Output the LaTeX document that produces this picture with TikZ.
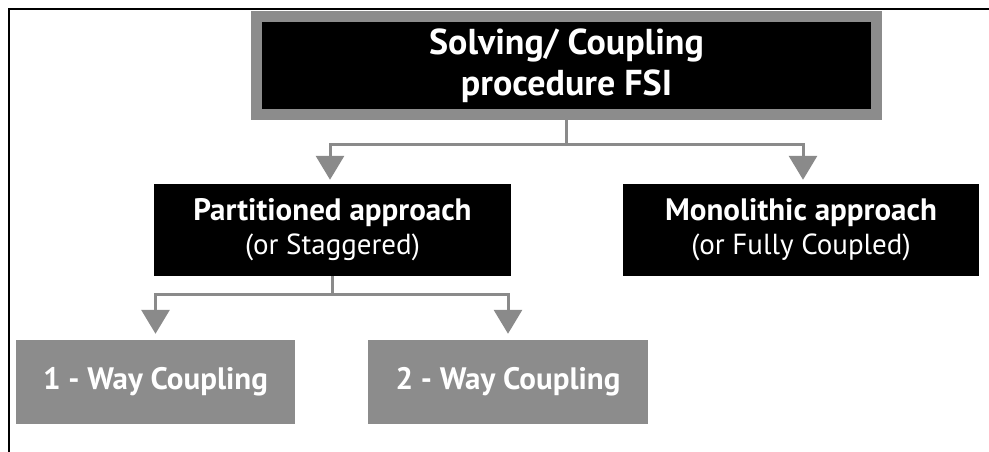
\documentclass[tikz,border=0pt]{standalone}
\usepackage{fontspec}
\setmainfont{PT Sans}
\definecolor{BoxGray}{HTML}{8C8C8C}
\definecolor{LineGray}{HTML}{8A8A8A}
\usetikzlibrary{arrows.meta, positioning}

\tikzset{
  darkbox/.style={fill=black, text=white, align=center, inner sep=0pt},
  graybox/.style={fill=BoxGray, text=white, align=center, inner sep=0pt},
  link/.style={LineGray, line width=3pt, -{Triangle[width=28pt,length=24pt]}},
}

\begin{document}
\begin{tikzpicture}[x=1pt, y=-1pt]
  \useasboundingbox (0,0) rectangle (989,452);
  % frame (left and top edge only)
  \draw[line width=2.4pt] (9,452) -- (9,9) -- (989,9);
  % top box
  \node[darkbox, draw=BoxGray, line width=11pt, minimum width=620pt, minimum height=98pt,
        font=\bfseries\fontsize{36}{41}\selectfont] (fsi) at (566.5,65.5)
        {Solving/ Coupling\\procedure FSI};
  % second level
  \node[darkbox, minimum width=357pt, minimum height=92pt,
        font=\fontsize{29}{34}\selectfont] (part) at (332.5,230)
        {{\bfseries\fontsize{31}{34}\selectfont Partitioned approach}\\(or Staggered)};
  \node[darkbox, minimum width=356pt, minimum height=92pt,
        font=\fontsize{29}{34}\selectfont] (mono) at (801,230)
        {{\bfseries\fontsize{31}{34}\selectfont Monolithic approach}\\(or Fully Coupled)};
  % third level
  \node[graybox, minimum width=279pt, minimum height=84pt,
        font=\bfseries\fontsize{31}{36}\selectfont] (one) at (155.5,382) {1 - Way Coupling};
  \node[graybox, minimum width=280pt, minimum height=84pt,
        font=\bfseries\fontsize{31}{36}\selectfont] (two) at (508,382) {2 - Way Coupling};
  % connectors
  \coordinate (fork1) at ([yshift=-24pt]fsi.south);
  \coordinate (fork2) at ([yshift=-18pt]part.south);
  \draw[LineGray, line width=3pt] (fsi.south) -- (fork1);
  \draw[link] (fork1) -| ([xshift=-2.5pt, yshift=4pt]part.north);
  \draw[link] (fork1) -| ([xshift=2pt, yshift=4pt]mono.north);
  \draw[LineGray, line width=3pt] (part.south) -- (fork2);
  \draw[link] (fork2) -| ([yshift=6pt]one.north);
  \draw[link] (fork2) -| ([yshift=6pt]two.north);
\end{tikzpicture}
\end{document}
